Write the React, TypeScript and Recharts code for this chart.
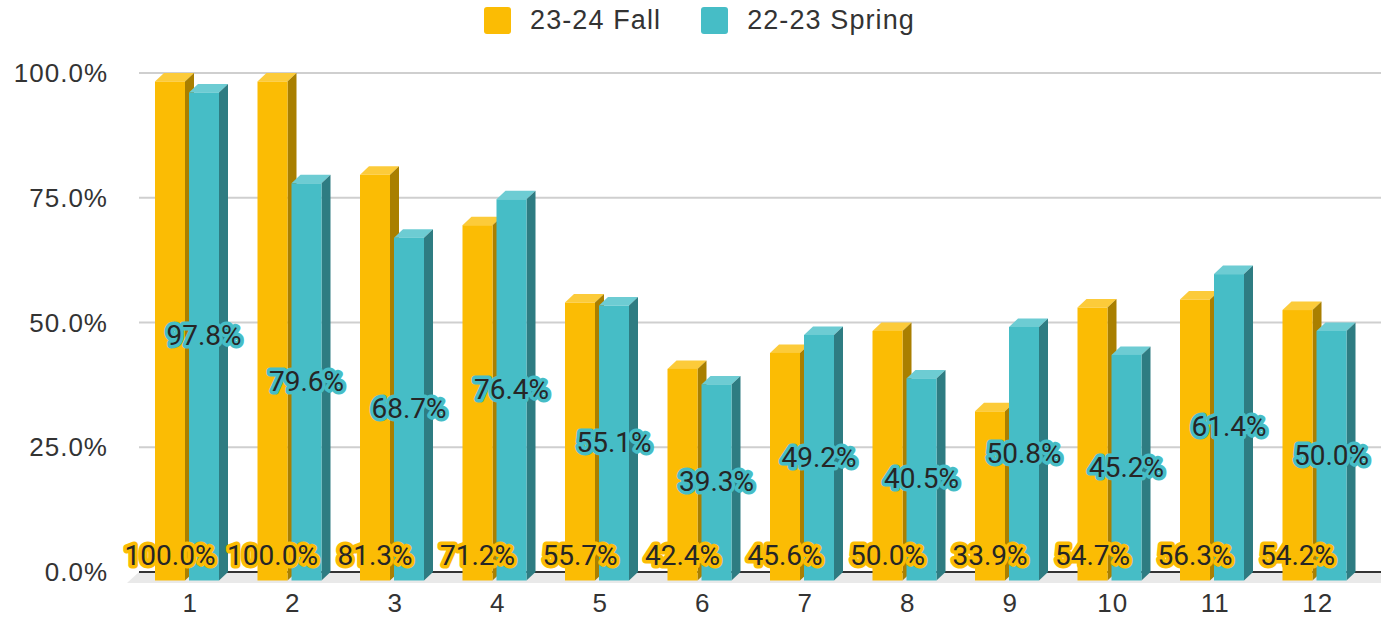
import React from 'react';
import {
  BarChart,
  Bar,
  XAxis,
  YAxis,
  CartesianGrid,
  Legend,
  LabelList,
} from 'recharts';

const categories = ['1', '2', '3', '4', '5', '6', '7', '8', '9', '10', '11', '12'];
const fall = [100.0, 100.0, 81.3, 71.2, 55.7, 42.4, 45.6, 50.0, 33.9, 54.7, 56.3, 54.2];
const spring = [97.8, 79.6, 68.7, 76.4, 55.1, 39.3, 49.2, 40.5, 50.8, 45.2, 61.4, 50.0];
const yTicks = [0, 25, 50, 75, 100];
const seriesOrder = ['fall', 'spring'];

const FALL = { front: '#FBBC04', top: '#FCCB3A', side: '#A97F00' };
const SPRING = { front: '#46BDC6', top: '#6DCCD3', side: '#2E7C82' };

const DX = 9; // depth to the right
const DY = 8.5; // depth downwards for the front face
const SHIFT = -3;
const RIGHT_EXTRA = 12; // grid runs past the plot to the page edge

const data = categories.map((c, i) => ({ name: c, fall: fall[i], spring: spring[i] }));

const fmt = (v: number) => `${v.toFixed(1)}%`;

function make3DBar(col: { front: string; top: string; side: string }) {
  return (props: any) => {
    const { width, height } = props;
    const x = props.x + SHIFT;
    const y = props.y;
    if (!height || height <= 0) return <g />;
    const w = width;
    const h = height;
    return (
      <g>
        <polygon
          points={`${x},${y + DY} ${x + w},${y + DY} ${x + w + DX},${y} ${x + DX},${y}`}
          fill={col.top}
        />
        <polygon
          points={`${x + w},${y + DY} ${x + w + DX},${y} ${x + w + DX},${y + h} ${x + w},${y + h + DY}`}
          fill={col.side}
        />
        <rect x={x} y={y + DY} width={w} height={h} fill={col.front} />
      </g>
    );
  };
}

const labelStyle = {
  fontFamily: 'Roboto, "Liberation Sans", sans-serif',
  fontSize: 28,
  fill: '#262626',
  strokeWidth: 7,
  strokeLinejoin: 'round' as const,
  paintOrder: 'stroke' as const,
};

// fall labels sit at the bottom of the fall bar (drawn from the spring bar so they stay on top)
const fallLabel = (props: any) => {
  const { x, y, width, height, value } = props;
  const cx = x + SHIFT - 34 + width / 2;
  return (
    <text x={cx} y={y + height - 17} textAnchor="middle" dominantBaseline="central" stroke={FALL.front} style={labelStyle}>
      {fmt(value)}
    </text>
  );
};

const springLabel = (props: any) => {
  const { x, y, width, height, value } = props;
  const cx = x + SHIFT + width / 2;
  return (
    <text x={cx} y={y + height / 2 + 8} textAnchor="middle" dominantBaseline="central" stroke={SPRING.front} style={labelStyle}>
      {fmt(value)}
    </text>
  );
};

const gridLine = (props: any) => {
  const { x1, y1, y, height, index } = props;
  const x2 = props.x2 + RIGHT_EXTRA;
  const isBase = y !== undefined && height !== undefined ? Math.abs(y1 - (y + height)) < 1 : index === 0;
  if (isBase) {
    return (
      <g key={`base-${index}`}>
        <polygon
          points={`${x1},${y1} ${x2},${y1} ${x2},${y1 + 11} ${x1 - 12},${y1 + 11}`}
          fill="#e9e9e9"
        />
        <line x1={x1} x2={x2} y1={y1} y2={y1} stroke="#333" strokeWidth={2} />
      </g>
    );
  }
  return <line key={`g-${index}`} x1={x1} x2={x2} y1={y1} y2={y1} stroke="#cfcfcf" strokeWidth={2} />;
};

const renderLegend = (props: any) => {
  const items = [...(props.payload || [])].sort(
    (a: any, b: any) => seriesOrder.indexOf(a.dataKey) - seriesOrder.indexOf(b.dataKey)
  );
  return (
    <div style={{ display: 'flex', justifyContent: 'center', alignItems: 'center', height: 40, gap: 40, paddingLeft: 30 }}>
      {items.map((p: any) => (
        <div key={p.value} style={{ display: 'flex', alignItems: 'center' }}>
          <span style={{ width: 27, height: 27, borderRadius: 3, background: p.color, display: 'inline-block' }} />
          <span
            style={{
              marginLeft: 19,
              fontFamily: '"Liberation Sans", Arial, sans-serif',
              fontSize: 27,
              letterSpacing: 1.1,
              color: '#333',
            }}
          >
            {p.value}
          </span>
        </div>
      ))}
    </div>
  );
};

const tickStyle = {
  fontFamily: '"Liberation Sans", Arial, sans-serif',
  fontSize: 26,
  fill: '#333',
  letterSpacing: 1,
};

export default function App() {
  return (
    <div style={{ position: 'absolute', left: 0, top: 0, width: 1381, height: 622, background: '#fff' }}>
      <BarChart
        width={1381}
        height={622}
        data={data}
        margin={{ top: 33, right: RIGHT_EXTRA, bottom: 0, left: 0 }}
        barSize={30}
        barGap={4}
      >
        <CartesianGrid vertical={false} horizontal={gridLine} />
        <XAxis
          dataKey="name"
          axisLine={false}
          tickLine={false}
          tickSize={0}
          tickMargin={22}
          height={50}
          tick={tickStyle}
        />
        <YAxis
          domain={[0, 100]}
          ticks={yTicks}
          tickFormatter={fmt}
          axisLine={false}
          tickLine={false}
          tickSize={0}
          tickMargin={31}
          width={139}
          tick={tickStyle}
        />
        <Legend
          verticalAlign="top"
          align="center"
          height={40}
          wrapperStyle={{ top: 0 }}
          content={renderLegend}
        />
        <Bar dataKey="fall" name="23-24 Fall" fill={FALL.front} shape={make3DBar(FALL)} isAnimationActive={false} />
        <Bar dataKey="spring" name="22-23 Spring" fill={SPRING.front} shape={make3DBar(SPRING)} isAnimationActive={false}>
          <LabelList dataKey="spring" content={springLabel} />
          <LabelList dataKey="fall" content={fallLabel} />
        </Bar>
      </BarChart>
    </div>
  );
}
